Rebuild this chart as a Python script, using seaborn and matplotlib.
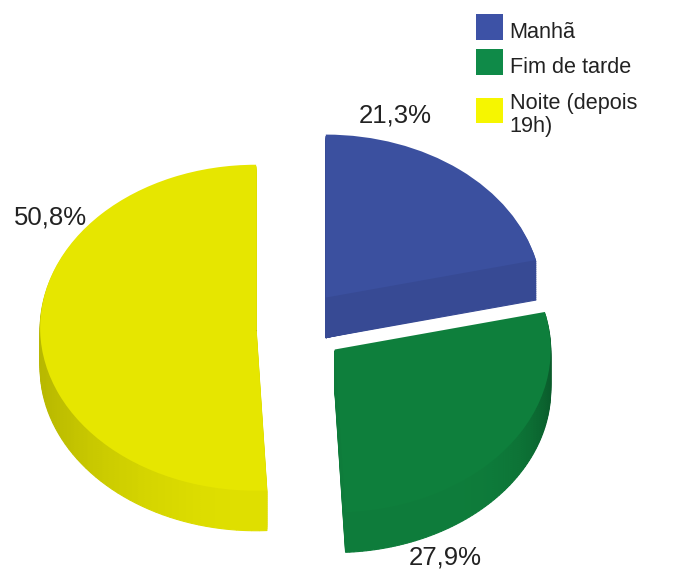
import numpy as np
import matplotlib
matplotlib.use("Agg")
import matplotlib.pyplot as plt
from matplotlib.patches import Patch
import seaborn as sns

# Study periods and their shares
periods = ["Manhã", "Fim de tarde", "Noite (depois\n19h)"]
shares = [21.3, 27.9, 50.8]
value_labels = ["21,3%", "27,9%", "50,8%"]
explode = [0.23, 0.23, 0.18]

sns.set_theme(style="white", font="Liberation Sans")
face_colors = sns.color_palette(["#3b509f", "#0e7f3c", "#e6e600"])
legend_colors = sns.color_palette(["#3d52a6", "#0f8a48", "#f6f600"])
rim_base = [0.93, 0.98, 0.97]
rim_edge = [0.93, 0.72, 0.80]
rim_power = [2, 8, 2]

WIDTH, HEIGHT = 673, 571
RX, RY = 216.0, 163.0      # pixels per pie radius on each axis
CX, CY = 295.0, 327.0      # pie centre in pixels from the top-left corner
DEPTH = 40                 # extrusion in pixels
SECTORS = 90

fig = plt.figure(figsize=(WIDTH / 100, HEIGHT / 100), dpi=100)
ax = fig.add_axes([0, 0, 1, 1])

fractions = np.array(shares) / 100
starts = 90 - 360 * np.concatenate([[0], np.cumsum(fractions)[:-1]])


def wedge_center(i, drop):
    mid = np.radians(starts[i] - 180 * fractions[i])
    return (explode[i] * np.cos(mid), explode[i] * np.sin(mid) - drop / RY)


# Extruded rim: stacked copies of each slice, shaded by angle around the rim
for drop in range(DEPTH, 0, -2):
    for i, frac in enumerate(fractions):
        step = frac / SECTORS
        mids = np.radians(starts[i] - 360 * step * (np.arange(SECTORS) + 0.5))
        factor = rim_base[i] - (rim_base[i] - rim_edge[i]) * np.abs(np.cos(mids)) ** rim_power[i]
        colors = [tuple(np.array(face_colors[i]) * f) for f in factor]
        wedges, _ = ax.pie(
            np.full(SECTORS, step), colors=colors, startangle=starts[i],
            counterclock=False, normalize=False, center=wedge_center(i, drop),
            wedgeprops=dict(linewidth=0.8),
        )
        for w, c in zip(wedges, colors):
            w.set_edgecolor(c)

# Top faces of the slices
for i, frac in enumerate(fractions):
    ax.pie([frac], colors=[face_colors[i]], startangle=starts[i],
           counterclock=False, normalize=False, center=wedge_center(i, 0),
           wedgeprops=dict(linewidth=0))

ax.set_aspect("auto")
ax.set_xlim(-CX / RX, (WIDTH - CX) / RX)
ax.set_ylim((CY - HEIGHT) / RY, CY / RY)
ax.set_axis_off()

# Value labels beside their slices
label_spots = [(395, 116), (445, 558), (50, 218)]
for text, (px, py) in zip(value_labels, label_spots):
    ax.text(px / WIDTH, 1 - py / HEIGHT, text, transform=ax.transAxes,
            ha="center", va="center", fontsize=18.5, color="#222222")

handles = [Patch(facecolor=c, edgecolor="none") for c in legend_colors]
legend = ax.legend(
    handles, periods, loc="upper left",
    bbox_to_anchor=(476 / WIDTH, 1 - 14 / HEIGHT),
    frameon=False, fontsize=15.6, handlelength=1.25, handleheight=1.45,
    handletextpad=0.3, labelspacing=0.42, borderpad=0, borderaxespad=0,
    labelcolor="#222222",
)
labels = legend.get_texts()
labels[2].set_linespacing(1.12)
labels[0].set_y(-4)
labels[1].set_y(-4)
labels[2].set_y(-9)
legend.get_patches()[2].set_y(-7)

fig.savefig("out.png", dpi=100, facecolor="white")
